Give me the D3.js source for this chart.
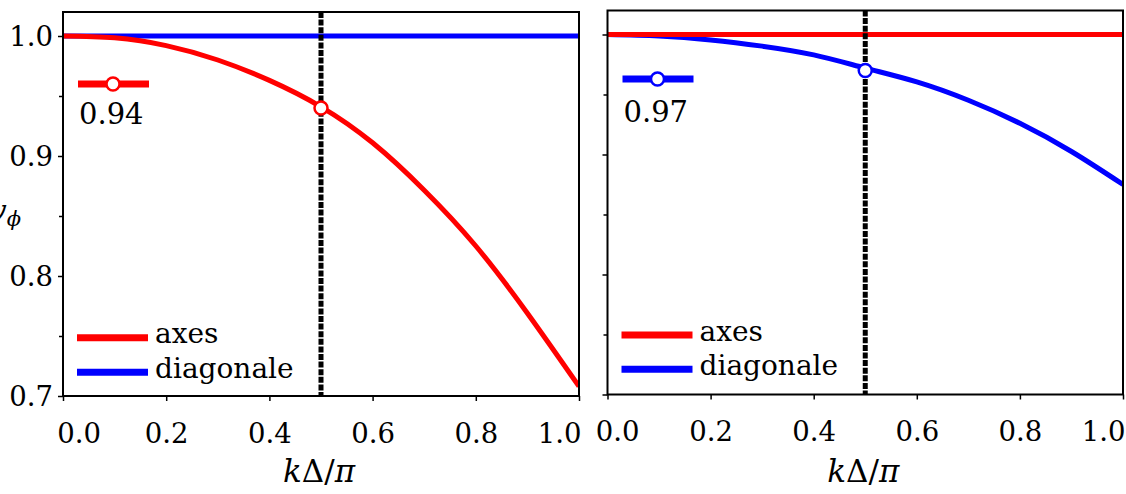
<!DOCTYPE html>
<html>
<head>
<meta charset="utf-8">
<script src="https://cdn.jsdelivr.net/npm/d3@7"></script>
<style>
  html, body { margin: 0; padding: 0; background: #fff; }
  svg { display: block; }
  text { font-family: "DejaVu Serif", serif; fill: #000; }
</style>
</head>
<body>
<svg id="chart" width="1126" height="494"></svg>
<script>
// Sample points along kΔ/π
const kValues = [0, 0.1, 0.2, 0.3, 0.4, 0.5, 0.6, 0.7, 0.8, 0.9, 1.0];

// Left scheme: phase velocity along the axes and along the diagonal
const leftAxes     = [1.000, 0.9985, 0.992, 0.980, 0.963, 0.941, 0.911, 0.8715, 0.825, 0.769, 0.708];
const leftDiagonal = [1.000, 1.000, 1.000, 1.000, 1.000, 1.000, 1.000, 1.000, 1.000, 1.000, 1.000];

// Right scheme
const rightAxes     = [1.000, 1.000, 1.000, 1.000, 1.000, 1.000, 1.000, 1.000, 1.000, 1.000, 1.000];
const rightDiagonal = [1.000, 0.9988, 0.9955, 0.9903, 0.983, 0.972, 0.9605, 0.9452, 0.926, 0.9025, 0.875];

// Highlighted value at kΔ/π = 0.5
const markerK = 0.5;
const leftMarkerValue = 0.94;
const rightMarkerValue = 0.97;

const seriesNames = ["axes", "diagonale"];
const xTicks = [0, 0.2, 0.4, 0.6, 0.8, 1.0];
const yTicks = [0.7, 0.8, 0.9, 1.0];
const yMinorTicks = [0.75, 0.85, 0.95];

const colors = { axes: "#ff0000", diagonale: "#0000ff" };

const panels = [
  {
    id: "left", x0: 63, top: 12, w: 516, h: 384,
    axes: leftAxes, diagonale: leftDiagonal,
    markerSeries: "axes", markerValue: leftMarkerValue,
    yLabels: true,
    badgeY: 84, badgeTextY: 123.5,
    legendY: [337.7, 372.3],
    firstDx: 15.5, lastDx: -20
  },
  {
    id: "right", x0: 607.5, top: 10.5, w: 515.5, h: 384,
    axes: rightAxes, diagonale: rightDiagonal,
    markerSeries: "diagonale", markerValue: rightMarkerValue,
    yLabels: false,
    badgeY: 79, badgeTextY: 121.5,
    legendY: [335, 369.3],
    firstDx: 9.5, lastDx: -20
  }
];

const TICK_FONT = 27.5;
const LEGEND_FONT = 28;
const BADGE_FONT = 29;
const XLABEL_FONT = 31;

const svg = d3.select("#chart");
const fmt = d3.format(".2f");

panels.forEach(p => {
  const x = d3.scaleLinear().domain([0, 1]).range([p.x0, p.x0 + p.w]);
  const y = d3.scaleLinear().domain([0.7, 1.02]).range([p.top + p.h, p.top]);
  const g = svg.append("g").attr("class", "panel-" + p.id);

  g.append("clipPath").attr("id", "clip-" + p.id)
    .append("rect")
    .attr("x", p.x0).attr("y", p.top).attr("width", p.w).attr("height", p.h);

  const plot = g.append("g").attr("clip-path", `url(#clip-${p.id})`);

  const line = d3.line()
    .x((d, i) => x(kValues[i]))
    .y(d => y(d))
    .curve(d3.curveNatural);

  // diagonal drawn first, axes on top
  ["diagonale", "axes"].forEach(name => {
    plot.append("path")
      .datum(p[name])
      .attr("d", line)
      .attr("fill", "none")
      .attr("stroke", colors[name])
      .attr("stroke-width", 5);
  });

  // reference position kΔ/π = 0.5
  plot.append("line")
    .attr("x1", x(markerK)).attr("x2", x(markerK))
    .attr("y1", p.top).attr("y2", p.top + p.h)
    .attr("stroke", "#000")
    .attr("stroke-width", 5)
    .attr("stroke-dasharray", "6,1.6");

  plot.append("circle")
    .attr("cx", x(markerK)).attr("cy", y(p.markerValue))
    .attr("r", 6.5)
    .attr("fill", "#fff")
    .attr("stroke", colors[p.markerSeries])
    .attr("stroke-width", 2.5);

  // frame
  g.append("rect")
    .attr("x", p.x0).attr("y", p.top).attr("width", p.w).attr("height", p.h)
    .attr("fill", "none").attr("stroke", "#000").attr("stroke-width", 2);

  // x axis
  const xAxis = g.append("g")
    .attr("transform", `translate(0,${p.top + p.h})`)
    .call(d3.axisBottom(x).tickValues(xTicks).tickFormat(d3.format(".1f"))
      .tickSize(5).tickPadding(22));
  xAxis.select(".domain").remove();
  xAxis.selectAll("line").attr("stroke", "#000").attr("stroke-width", 1.5);
  xAxis.selectAll("text")
    .attr("font-family", "DejaVu Serif, serif")
    .attr("font-size", TICK_FONT)
    .attr("fill", "#000")
    .attr("dx", (d, i) => i === 0 ? p.firstDx : (i === xTicks.length - 1 ? p.lastDx : 0));

  // y axis, major and minor ticks
  const yAxis = g.append("g")
    .attr("transform", `translate(${p.x0},0)`)
    .call(d3.axisLeft(y).tickValues(yTicks).tickFormat(p.yLabels ? d3.format(".1f") : () => "")
      .tickSize(5).tickPadding(5));
  yAxis.select(".domain").remove();
  yAxis.selectAll("line").attr("stroke", "#000").attr("stroke-width", 1.5);
  yAxis.selectAll("text")
    .attr("font-family", "DejaVu Serif, serif")
    .attr("font-size", TICK_FONT)
    .attr("fill", "#000")
    .attr("dy", "0.36em");

  const yMinor = g.append("g")
    .attr("transform", `translate(${p.x0},0)`)
    .call(d3.axisLeft(y).tickValues(yMinorTicks).tickFormat(() => "").tickSize(4));
  yMinor.select(".domain").remove();
  yMinor.selectAll("line").attr("stroke", "#000").attr("stroke-width", 1.5);

  // value badge: handle, marker and its value
  const badgeColor = colors[p.markerSeries];
  g.append("line")
    .attr("x1", p.x0 + 15).attr("x2", p.x0 + 86)
    .attr("y1", p.badgeY).attr("y2", p.badgeY)
    .attr("stroke", badgeColor).attr("stroke-width", 7);
  g.append("circle")
    .attr("cx", p.x0 + 50).attr("cy", p.badgeY).attr("r", 6.5)
    .attr("fill", "#fff").attr("stroke", badgeColor).attr("stroke-width", 2.5);
  g.append("text")
    .attr("x", p.x0 + 16).attr("y", p.badgeTextY)
    .attr("font-size", BADGE_FONT)
    .text(fmt(p.markerValue));

  // legend
  seriesNames.forEach((name, i) => {
    const ly = p.legendY[i];
    g.append("line")
      .attr("x1", p.x0 + 14).attr("x2", p.x0 + 85)
      .attr("y1", ly).attr("y2", ly)
      .attr("stroke", colors[name]).attr("stroke-width", 7);
    g.append("text")
      .attr("x", p.x0 + 92).attr("y", ly + 5.5)
      .attr("font-size", LEGEND_FONT)
      .text(name);
  });

  // x label kΔ/π
  const xl = g.append("text")
    .attr("x", p.x0 + p.w / 2 - 2).attr("y", 481.5)
    .attr("text-anchor", "middle")
    .attr("font-size", XLABEL_FONT);
  xl.append("tspan").attr("font-style", "italic").text("k");
  xl.append("tspan").text("Δ/");
  xl.append("tspan").attr("font-style", "italic").text("π");
});

// y label v_ϕ, partly beyond the left edge
const yl = svg.append("text")
  .attr("x", 21).attr("y", 221)
  .attr("text-anchor", "end")
  .attr("font-size", 30)
  .attr("font-style", "italic");
yl.append("tspan").text("v");
yl.append("tspan").attr("font-size", 21).attr("dy", 5).text("ϕ");
</script>
</body>
</html>
